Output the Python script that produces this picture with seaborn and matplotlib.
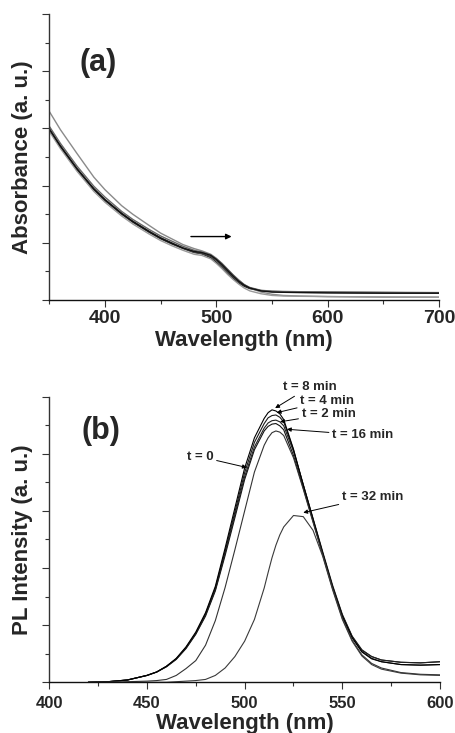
import matplotlib
matplotlib.use("Agg")
import matplotlib.pyplot as plt
import seaborn as sns
import numpy as np
from matplotlib.ticker import MultipleLocator, NullFormatter

# ---------------- data: panel (a) absorbance ----------------
wl_abs = [350, 360, 375, 390, 400, 415, 425, 440, 450, 460, 470, 480, 487, 495,
          500, 505, 510, 515, 520, 525, 530, 540, 550, 560, 575, 600, 650, 700]
abs_1 = [3.00, 2.70, 2.30, 1.95, 1.76, 1.52, 1.38, 1.20, 1.09, 1.00, 0.91, 0.84, 0.81, 0.74,
         0.66, 0.57, 0.47, 0.38, 0.30, 0.24, 0.20, 0.16, 0.145, 0.14, 0.135, 0.13, 0.125, 0.12]
abs_2 = [3.30, 2.98, 2.56, 2.15, 1.93, 1.65, 1.50, 1.30, 1.17, 1.07, 0.97, 0.90, 0.86, 0.80,
         0.73, 0.64, 0.54, 0.44, 0.35, 0.27, 0.21, 0.14, 0.10, 0.08, 0.07, 0.06, 0.05, 0.05]
abs_3 = [2.98, 2.68, 2.28, 1.93, 1.74, 1.50, 1.36, 1.18, 1.07, 0.98, 0.90, 0.83, 0.81, 0.76,
         0.69, 0.60, 0.50, 0.41, 0.32, 0.26, 0.21, 0.165, 0.15, 0.145, 0.14, 0.135, 0.13, 0.125]
abs_4 = [3.04, 2.74, 2.34, 1.99, 1.80, 1.55, 1.41, 1.23, 1.12, 1.03, 0.94, 0.87, 0.84, 0.79,
         0.72, 0.64, 0.54, 0.44, 0.35, 0.27, 0.22, 0.17, 0.155, 0.15, 0.145, 0.14, 0.135, 0.13]
abs_5 = [2.95, 2.65, 2.25, 1.90, 1.71, 1.47, 1.33, 1.15, 1.04, 0.95, 0.87, 0.80, 0.78, 0.72,
         0.64, 0.55, 0.45, 0.36, 0.28, 0.21, 0.16, 0.11, 0.08, 0.07, 0.065, 0.06, 0.055, 0.05]
abs_6 = [2.99, 2.69, 2.29, 1.94, 1.75, 1.51, 1.37, 1.19, 1.08, 0.99, 0.91, 0.85, 0.83, 0.78,
         0.71, 0.62, 0.52, 0.42, 0.33, 0.26, 0.21, 0.16, 0.14, 0.135, 0.13, 0.125, 0.12, 0.12]
abs_series = [abs_1, abs_2, abs_3, abs_4, abs_5, abs_6]
abs_colors = ["#222222", "#8a8a8a", "#444444", "#666666", "#9a9a9a", "#111111"]

# ---------------- data: panel (b) PL ----------------
wl_pl = [420, 430, 440, 450, 455, 460, 465, 470, 475, 480, 485, 490, 495, 500, 505, 510,
         512, 514, 516, 518, 520, 525, 530, 535, 540, 545, 550, 555, 560, 565, 570, 580, 590, 600]
pl_t0 = [0, 0.01, 0.04, 0.12, 0.18, 0.27, 0.40, 0.59, 0.84, 1.16, 1.60, 2.22, 2.88, 3.55, 4.07, 4.40,
         4.48, 4.52, 4.53, 4.49, 4.42, 3.97, 3.40, 2.82, 2.24, 1.67, 1.17, 0.80, 0.56, 0.45, 0.39, 0.35, 0.34, 0.36]
pl_t2 = [0, 0.01, 0.04, 0.12, 0.18, 0.28, 0.41, 0.60, 0.85, 1.18, 1.62, 2.26, 2.93, 3.60, 4.12, 4.45,
         4.54, 4.58, 4.59, 4.56, 4.49, 4.04, 3.46, 2.87, 2.28, 1.70, 1.19, 0.81, 0.57, 0.45, 0.39, 0.35, 0.34, 0.36]
pl_t4 = [0, 0.01, 0.04, 0.12, 0.18, 0.28, 0.41, 0.61, 0.86, 1.20, 1.65, 2.30, 2.98, 3.67, 4.20, 4.53,
         4.63, 4.67, 4.68, 4.64, 4.56, 4.07, 3.46, 2.86, 2.26, 1.68, 1.17, 0.79, 0.54, 0.42, 0.36, 0.31, 0.30, 0.31]
pl_t8 = [0, 0.01, 0.04, 0.12, 0.18, 0.28, 0.42, 0.62, 0.88, 1.22, 1.68, 2.35, 3.05, 3.75, 4.28, 4.62,
         4.72, 4.77, 4.75, 4.70, 4.60, 4.08, 3.45, 2.85, 2.25, 1.66, 1.15, 0.78, 0.53, 0.41, 0.36, 0.31, 0.30, 0.31]
pl_t16 = [0, 0, 0.01, 0.02, 0.03, 0.05, 0.12, 0.24, 0.38, 0.65, 1.08, 1.66, 2.32, 3.00, 3.68, 4.15,
          4.28, 4.37, 4.40, 4.38, 4.32, 3.93, 3.38, 2.80, 2.22, 1.64, 1.12, 0.74, 0.48, 0.33, 0.25, 0.17, 0.14, 0.13]
pl_t32 = [0, 0, 0, 0, 0, 0, 0.01, 0.02, 0.03, 0.05, 0.12, 0.25, 0.45, 0.72, 1.10, 1.65,
          1.92, 2.18, 2.40, 2.58, 2.72, 2.92, 2.90, 2.66, 2.20, 1.62, 1.10, 0.72, 0.46, 0.31, 0.23, 0.16, 0.13, 0.12]
pl_series = [pl_t0, pl_t2, pl_t4, pl_t8, pl_t16, pl_t32]
pl_colors = ["#111111", "#222222", "#1a1a1a", "#000000", "#333333", "#3a3a3a"]

# labels: text, text position (wl, value), arrow tip (wl, value)
pl_labels = ["t = 8 min", "t = 4 min", "t = 2 min", "t = 16 min", "t = 0", "t = 32 min"]
pl_label_xy = [(519.5, 5.17), (528.5, 4.93), (529.2, 4.70), (544.8, 4.33), (484.0, 3.95), (549.8, 3.25)]
pl_label_tip = [(515.6, 4.80), (516.4, 4.72), (518.1, 4.56), (521.6, 4.43), (501.1, 3.76), (530.0, 2.97)]
pl_label_ha = ["left", "left", "left", "left", "right", "left"]

sns.set_theme(style="ticks")
plt.rcParams["font.family"] = ["Liberation Sans", "DejaVu Sans"]

fig = plt.figure(figsize=(4.56, 7.33), dpi=100)
ax1 = fig.add_axes([0.108, 0.5907, 0.855, 0.390])
ax2 = fig.add_axes([0.108, 0.0692, 0.857, 0.3896])

for ys, c in zip(abs_series, abs_colors):
    sns.lineplot(x=wl_abs, y=ys, ax=ax1, color=c, lw=1.0)
ax1.annotate("", xy=(516.2, 1.11), xytext=(474.7, 1.11),
             arrowprops=dict(arrowstyle="-|>", color="black", lw=1.0, mutation_scale=8))
ax1.text(393.5, 4.15, "(a)", fontsize=22, fontweight="bold", ha="center", va="center")
ax1.set_xlim(350, 700)
ax1.set_ylim(0, 5)
ax1.xaxis.set_major_locator(MultipleLocator(100))
ax1.xaxis.set_minor_locator(MultipleLocator(50))
ax1.set_xlabel("Wavelength (nm)", fontsize=16, fontweight="bold", labelpad=2)
ax1.set_ylabel("Absorbance (a. u.)", fontsize=16, fontweight="bold", labelpad=3)
ax1.tick_params(axis="x", which="major", labelsize=14, pad=2)

for ys, c in zip(pl_series, pl_colors):
    sns.lineplot(x=wl_pl, y=ys, ax=ax2, color=c, lw=0.8)
for lab, xy, tip, ha in zip(pl_labels, pl_label_xy, pl_label_tip, pl_label_ha):
    ax2.annotate(lab, xy=tip, xytext=xy, fontsize=9.5, fontweight="bold",
                 family=["Liberation Sans Narrow", "Liberation Sans", "DejaVu Sans"],
                 ha=ha, va="center",
                 arrowprops=dict(arrowstyle="-|>", color="black", lw=0.7,
                                 mutation_scale=6, shrinkA=0, shrinkB=0))
ax2.text(426.5, 4.4, "(b)", fontsize=22, fontweight="bold", ha="center", va="center")
ax2.set_xlim(400, 600)
ax2.set_ylim(0, 5)
ax2.xaxis.set_major_locator(MultipleLocator(50))
ax2.xaxis.set_minor_locator(MultipleLocator(25))
ax2.set_xlabel("Wavelength (nm)", fontsize=16, fontweight="bold", labelpad=1)
ax2.set_ylabel("PL Intensity (a. u.)", fontsize=16, fontweight="bold", labelpad=3)
ax2.tick_params(axis="x", which="major", labelsize=12, pad=5)

for ax in (ax1, ax2):
    sns.despine(ax=ax)
    ax.yaxis.set_major_locator(MultipleLocator(1))
    ax.yaxis.set_minor_locator(MultipleLocator(0.5))
    ax.yaxis.set_major_formatter(NullFormatter())
    ax.spines["left"].set_color("#333333")
    ax.spines["bottom"].set_color("#111111")
    ax.spines["left"].set_linewidth(1.0)
    ax.spines["bottom"].set_linewidth(1.0)
    ax.tick_params(axis="both", which="major", direction="out", length=5, width=0.8,
                   color="#333333")
    ax.tick_params(axis="both", which="minor", direction="out", length=3, width=0.8,
                   color="#333333")
    for lbl in ax.get_xticklabels():
        lbl.set_fontweight("bold")
    ax.set_facecolor("white")

fig.savefig("out.png", dpi=100, facecolor="white")
